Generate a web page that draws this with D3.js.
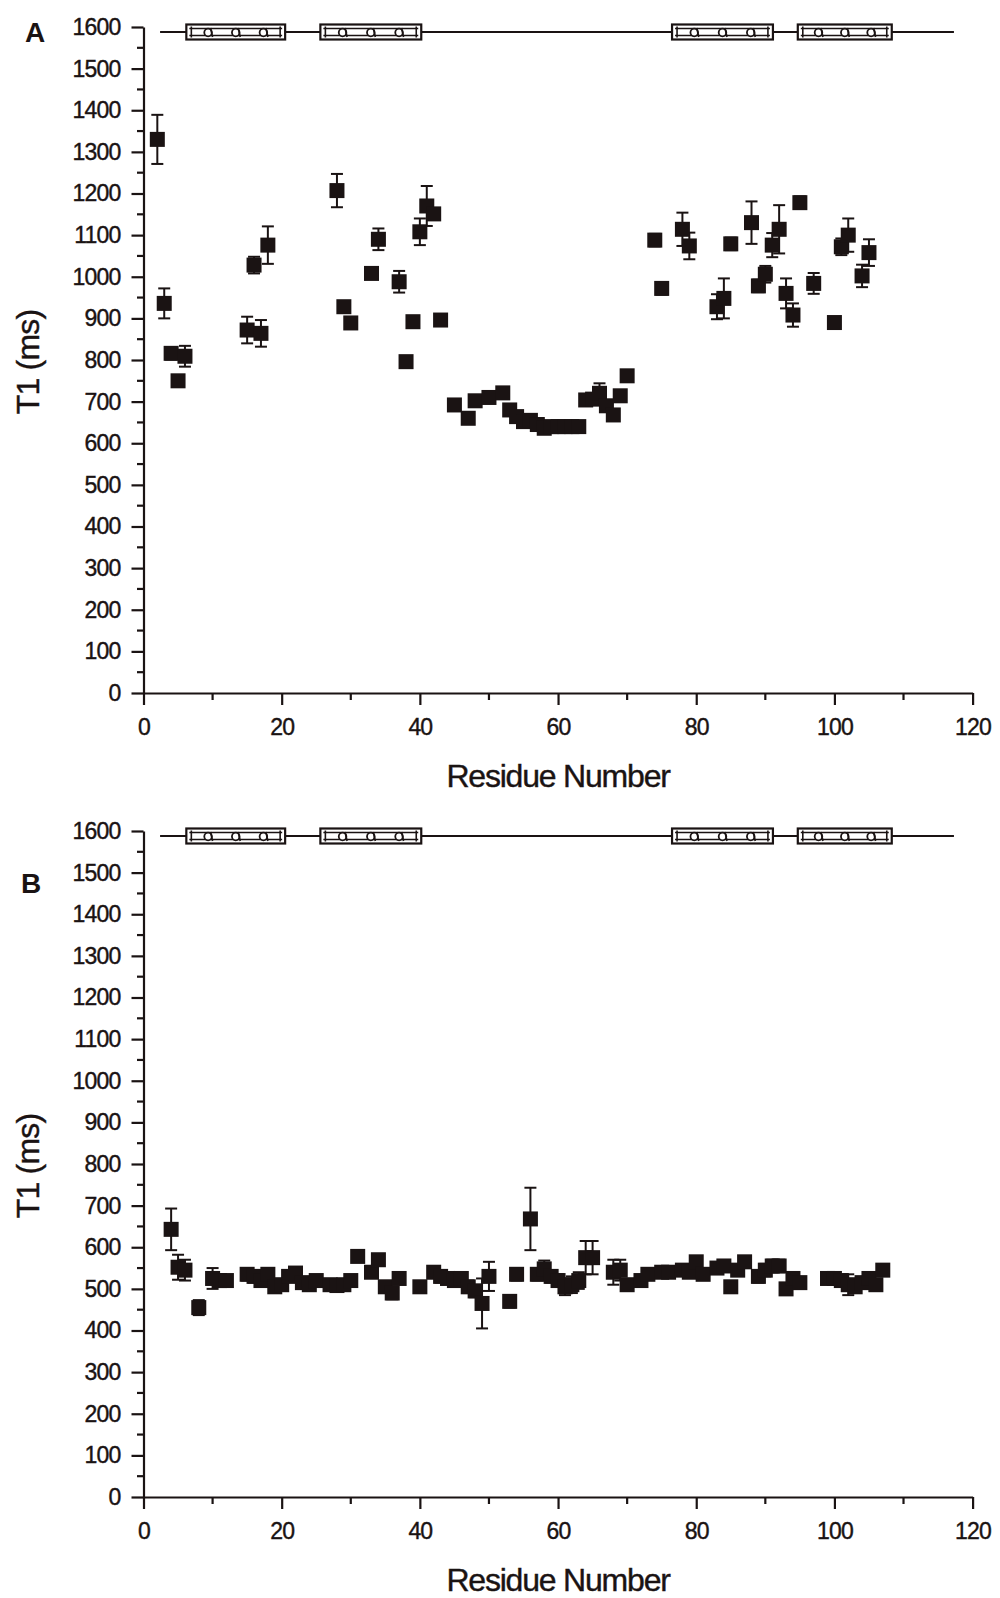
<!DOCTYPE html>
<html><head><meta charset="utf-8">
<script src="https://cdn.jsdelivr.net/npm/d3@7"></script>
<style>
html,body{margin:0;padding:0;background:#ffffff;}
svg text{font-family:"Liberation Sans",Arial,sans-serif;fill:#1a1313;}
</style></head>
<body>
<svg id="chart" width="1000" height="1598"></svg>
<script>
// ---------- data ----------
const residuesA = [2,3,4,5,6,15,16,17,18,28,29,30,33,34,37,38,39,40,41,42,43,45,47,48,50,52,53,54,55,56,57,58,59,60,61,62,63,64,65,66,67,68,69,70,74,75,78,79,83,84,85,88,89,90,91,92,93,94,95,97,100,101,102,104,105];
const t1A = [1330,936,816,750,809,872,1028,864,1076,1207,928,889,1008,1090,988,796,892,1108,1170,1151,896,692,660,702,710,721,680,664,652,655,645,636,640,640,640,640,640,704,706,720,690,668,714,762,1088,972,1114,1074,928,948,1079,1130,978,1006,1076,1114,960,908,1178,984,890,1072,1100,1002,1058];
const errA = [59,36,15,12,25,32,20,32,45,40,10,10,10,26,26,10,10,32,48,10,10,10,10,10,10,10,10,10,10,10,10,10,10,10,10,10,10,10,10,24,10,10,10,10,15,15,40,32,30,48,15,51,15,20,29,58,36,28,15,25,10,20,40,27,32];

const residuesB = [4,5,6,8,10,11,12,15,16,17,18,19,20,21,22,23,24,25,27,28,29,30,31,33,34,35,36,37,40,42,43,44,45,46,47,48,49,50,53,54,56,57,58,59,60,61,62,63,64,65,68,69,70,72,73,75,76,78,79,80,81,83,84,85,86,87,89,90,91,92,93,94,95,99,100,101,102,103,104,105,106,107];
const t1B = [643,552,545,455,525,520,520,535,530,520,535,505,510,530,538,515,510,520,510,508,510,520,578,540,570,505,490,525,505,540,530,525,520,525,505,495,465,530,470,535,668,535,548,530,520,505,510,520,575,575,540,545,510,520,535,540,540,545,540,565,535,550,555,505,545,565,530,545,555,555,500,525,515,525,525,520,510,505,515,525,510,545];
const errB = [50,30,25,18,25,10,10,15,15,15,15,10,10,10,10,10,10,10,10,10,10,10,10,10,10,10,15,10,10,10,15,10,15,15,15,15,60,35,15,15,75,15,20,15,15,20,20,20,40,40,30,25,10,10,10,10,10,10,10,10,10,10,10,10,10,10,15,15,15,15,10,10,10,10,10,10,25,10,10,10,10,10];

const xTickValues = [0,20,40,60,80,100,120];
const xMinorValues = [10,30,50,70,90,110];
const yTickValues = d3.range(0,1601,100);
const yMinorValues = d3.range(50,1600,100);
const helixStarts = [6.2,25.6,76.5,94.7];
const helixEnds = [20.5,40.2,91.1,108.3];
const ssLineRange = [2.4,117.3];
const panelLabels = ["A","B"];
const xTitle = "Residue Number";
const yTitle = "T1 (ms)";

// ---------- layout ----------
const INK = "#1a1313";
const svg = d3.select("#chart");
svg.append("rect").attr("width",1000).attr("height",1598).attr("fill","#ffffff");

const x = d3.scaleLinear().domain([0,120]).range([143.5,972.6]);

const panels = [
  {label:panelLabels[0], res:residuesA, val:t1A, err:errA, top:27, bottom:693},
  {label:panelLabels[1], res:residuesB, val:t1B, err:errB, top:831, bottom:1497}
];

panels.forEach((p,pi)=>{
  const y = d3.scaleLinear().domain([0,1600]).range([p.bottom,p.top]);
  const g = svg.append("g");

  // y axis
  const yAx = g.append("g").attr("transform",`translate(${x(0)},0)`)
    .call(d3.axisLeft(y).tickValues(yTickValues).tickSize(12).tickPadding(11).tickSizeOuter(0).tickFormat(d3.format("d")));
  yAx.selectAll("text").attr("font-size",23).attr("letter-spacing","-0.8px");
  yAx.append("g").selectAll("line").data(yMinorValues).join("line")
    .attr("x1",-6.5).attr("x2",0).attr("y1",d=>y(d)).attr("y2",d=>y(d));

  // x axis
  const xAx = g.append("g").attr("transform",`translate(0,${y(0)})`)
    .call(d3.axisBottom(x).tickValues(xTickValues).tickSize(12).tickPadding(14).tickSizeOuter(0).tickFormat(d3.format("d")));
  xAx.selectAll("text").attr("font-size",23).attr("letter-spacing","-0.8px");
  xAx.append("g").selectAll("line").data(xMinorValues).join("line")
    .attr("x1",d=>x(d)).attr("x2",d=>x(d)).attr("y1",0).attr("y2",7);

  [yAx,xAx].forEach(a=>{
    a.selectAll("path,line").attr("stroke",INK).attr("stroke-width",2.2);
    a.selectAll("text").attr("fill",INK).attr("stroke",INK).attr("stroke-width",0.4)
      .attr("font-family",'"Liberation Sans",Arial,sans-serif');
  });

  // axis titles
  g.append("text").attr("x",(x(0)+x(120))/2).attr("y",y(0)+94)
    .attr("text-anchor","middle").attr("font-size",32).attr("letter-spacing","-1.2px")
    .attr("stroke",INK).attr("stroke-width",0.4).text(xTitle);
  g.append("text").attr("transform",`translate(39,${(y(0)+y(1600))/2 + 2}) rotate(-90)`)
    .attr("text-anchor","middle").attr("font-size",32).attr("letter-spacing","-0.8px")
    .attr("stroke",INK).attr("stroke-width",0.4).text(yTitle);

  // panel label
  g.append("text").attr("x",pi===0?35:31).attr("y",pi===0?42:893)
    .attr("text-anchor","middle").attr("font-size",28).attr("font-weight","bold").text(p.label);

  // secondary structure line
  const ssY = y(1600) + 5;
  const ss = g.append("g");
  ss.append("line").attr("x1",x(ssLineRange[0])).attr("x2",x(ssLineRange[1]))
    .attr("y1",ssY).attr("y2",ssY).attr("stroke",INK).attr("stroke-width",2.2);
  helixStarts.forEach((hs,i)=>{
    const he = helixEnds[i];
    const x0 = x(hs), x1 = x(he), w = x1-x0;
    const hg = ss.append("g");
    hg.append("rect").attr("x",x0).attr("y",ssY-7.5).attr("width",w).attr("height",15)
      .attr("fill","#ffffff").attr("stroke",INK).attr("stroke-width",2.2);
    hg.append("line").attr("x1",x0+3).attr("x2",x1-3).attr("y1",ssY-3.5).attr("y2",ssY-3.5)
      .attr("stroke",INK).attr("stroke-width",1.3);
    hg.append("line").attr("x1",x0+3).attr("x2",x1-3).attr("y1",ssY+3.5).attr("y2",ssY+3.5)
      .attr("stroke",INK).attr("stroke-width",1.3);
    hg.append("line").attr("x1",x0+5).attr("x2",x0+5).attr("y1",ssY-5.5).attr("y2",ssY+5.5)
      .attr("stroke",INK).attr("stroke-width",1.6);
    hg.append("line").attr("x1",x1-5).attr("x2",x1-5).attr("y1",ssY-5.5).attr("y2",ssY+5.5)
      .attr("stroke",INK).attr("stroke-width",1.6);
    [0.22,0.5,0.78].forEach(f=>{
      hg.append("circle").attr("cx",x0+w*f).attr("cy",ssY+0.5).attr("r",3.8)
        .attr("fill","#ffffff").attr("stroke",INK).attr("stroke-width",1.8);
      hg.append("line").attr("x1",x0+w*f+2.5).attr("x2",x0+w*f+4.5).attr("y1",ssY-4).attr("y2",ssY+5)
        .attr("stroke",INK).attr("stroke-width",1.6);
    });
  });

  // data
  const data = p.res.map((r,i)=>({r, v:p.val[i], e:p.err[i]}));
  const eb = g.append("g").attr("stroke",INK).attr("stroke-width",2);
  data.forEach(d=>{
    const cx = x(d.r), yt = y(d.v+d.e), yb = y(d.v-d.e);
    eb.append("line").attr("x1",cx).attr("x2",cx).attr("y1",yt).attr("y2",yb);
    eb.append("line").attr("x1",cx-6).attr("x2",cx+6).attr("y1",yt).attr("y2",yt);
    eb.append("line").attr("x1",cx-6).attr("x2",cx+6).attr("y1",yb).attr("y2",yb);
  });
  g.append("g").selectAll("rect").data(data).join("rect")
    .attr("x",d=>x(d.r)-7.5).attr("y",d=>y(d.v)-7.5).attr("width",15).attr("height",15)
    .attr("fill",INK);
});
</script>
</body></html>
